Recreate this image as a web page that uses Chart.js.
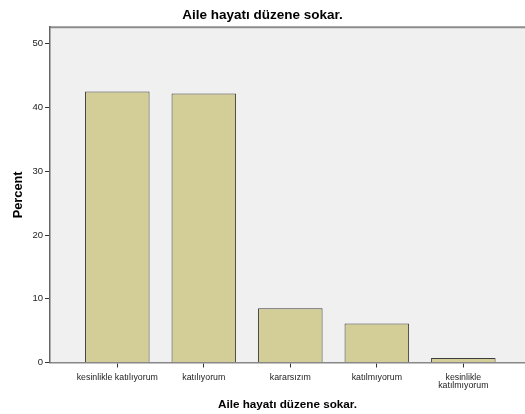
<!DOCTYPE html>
<html>
<head>
<meta charset="utf-8">
<script src="https://cdn.jsdelivr.net/npm/chart.js@4/dist/chart.umd.min.js"></script>
<style>
  html, body { margin: 0; padding: 0; background: #ffffff; }
  #wrap { position: relative; width: 525px; height: 414px; }
</style>
</head>
<body>
<div id="wrap"><canvas id="c" width="525" height="414"></canvas></div>
<script>
const chartTitle = 'Aile hayatı düzene sokar.';
const xAxisTitle = 'Aile hayatı düzene sokar.';
const yAxisTitle = 'Percent';
const categories = ['kesinlikle katılıyorum', 'katılıyorum', 'kararsızım', 'katılmıyorum', ['kesinlikle', 'katılmıyorum']];
const percentValues = [42.5, 42.2, 8.5, 6.1, 0.7];
const yTickValues = [0, 10, 20, 30, 40, 50];

const frameBg = {
  id: 'frameBg',
  beforeDraw(chart) {
    const { ctx, chartArea: a } = chart;
    ctx.save();
    ctx.fillStyle = '#f0f0f0';
    ctx.fillRect(a.left, a.top, a.right - a.left, a.bottom - a.top);
    ctx.strokeStyle = '#8c8c8c';
    ctx.lineWidth = 2;
    ctx.beginPath();
    ctx.moveTo(a.left, a.top);
    ctx.lineTo(a.right, a.top);
    ctx.stroke();
    ctx.restore();
  }
};

new Chart(document.getElementById('c'), {
  type: 'bar',
  data: {
    datasets: [{
      data: percentValues.map((v, i) => ({ x: i + 1, y: v })),
      backgroundColor: '#d3ce97',
      borderColor: '#3c3c3c',
      borderWidth: 1,
      borderSkipped: 'bottom',
      barPercentage: 0.746,
      categoryPercentage: 1.0
    }]
  },
  options: {
    responsive: false,
    animation: false,
    events: [],
    layout: { padding: { left: 0, right: 0, top: 0, bottom: 0 } },
    plugins: {
      legend: { display: false },
      tooltip: { enabled: false },
      title: {
        display: true,
        text: chartTitle,
        color: '#000000',
        font: { family: 'Liberation Sans', size: 13.5, weight: 'bold', lineHeight: 1.2 },
        padding: { top: 7, bottom: 4 }
      }
    },
    scales: {
      x: {
        type: 'linear',
        min: 0.222,
        max: 5.713,
        offset: false,
        afterBuildTicks(scale) { scale.ticks = categories.map((c, i) => ({ value: i + 1 })); },
        afterFit(scale) { scale.height = 51.5; },
        ticks: {
          autoSkip: false,
          maxRotation: 0,
          padding: 5.5,
          color: '#222222',
          font: { family: 'Liberation Sans', size: 8.8, lineHeight: 0.95 },
          callback: (v) => categories[Math.round(v) - 1]
        },
        grid: { display: true, offset: false, drawOnChartArea: false, drawTicks: true, tickLength: 5, color: '#333333', lineWidth: 1 },
        border: { display: true, color: '#888888', width: 1.5 },
        title: {
          display: true,
          text: xAxisTitle,
          color: '#000000',
          font: { family: 'Liberation Sans', size: 11.7, weight: 'bold', lineHeight: 1.2 },
          padding: { top: 0, bottom: 2 }
        }
      },
      y: {
        min: 0,
        max: 52.6,
        afterBuildTicks(scale) { scale.ticks = yTickValues.map(v => ({ value: v })); },
        afterFit(scale) { scale.width = 50; },
        ticks: {
          padding: 2,
          color: '#222222',
          font: { family: 'Liberation Sans', size: 9.5 }
        },
        grid: { display: true, drawOnChartArea: false, drawTicks: true, tickLength: 5, color: '#333333', lineWidth: 1 },
        border: { display: true, color: '#666666', width: 1.5 },
        title: {
          display: true,
          text: yAxisTitle,
          color: '#000000',
          font: { family: 'Liberation Sans', size: 12.8, weight: 'bold', lineHeight: 1.2 },
          padding: { top: 10.5, bottom: 0 }
        }
      }
    }
  },
  plugins: [frameBg]
});
</script>
</body>
</html>
